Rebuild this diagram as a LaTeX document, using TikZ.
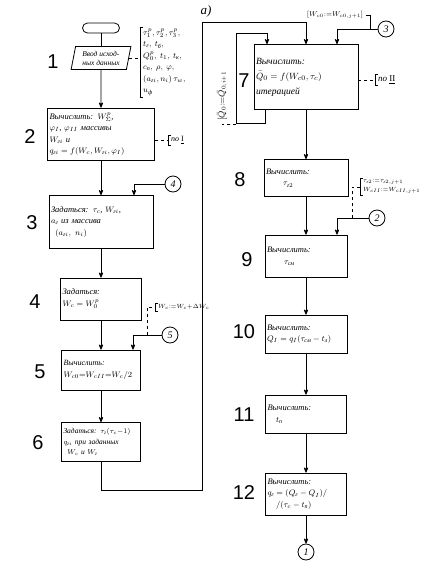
\documentclass[tikz,border=0pt]{standalone}
\usepackage{amsmath}
\usepackage{fontspec}
\setmainfont{Liberation Serif}
\setsansfont{Liberation Sans}
\usetikzlibrary{arrows}
\usetikzlibrary{shapes.geometric}
\newcommand{\ru}[1]{\text{#1}}
\newcommand{\skobka}[1]{\draw[thin] ([xshift=3pt]#1.north west) -- (#1.north west) -- (#1.south west) -- ([xshift=3pt]#1.south west);}

\begin{document}
\begin{tikzpicture}[x=1pt,y=-1pt,>=stealth',
  blok/.style={draw,rectangle,align=left,inner sep=2pt,font=\fontsize{8.5}{11.5}\selectfont\itshape},
  nomer/.style={inner sep=1pt,font=\fontsize{20}{20}\selectfont\sffamily},
  krug/.style={draw,circle,inner sep=0pt,minimum size=16pt,font=\fontsize{10}{10}\selectfont\itshape},
  zamech/.style={align=left,inner sep=1.5pt,inner xsep=3pt,font=\fontsize{8}{10}\selectfont\itshape}]
  \useasboundingbox (0,0) rectangle (429,568);
  \begin{scope}[thick]
    \node[font=\fontsize{13}{13}\selectfont\itshape] (metka) at (206,11) {а)};
    % left column
    \node[draw,rectangle,rounded corners=5pt,minimum width=37pt,minimum height=10pt,inner sep=0pt] (term) at (101,28) {};
    \node[draw,trapezium,trapezium left angle=78,trapezium right angle=102,trapezium stretches=true,
      minimum width=60pt,minimum height=23pt,inner sep=1pt,align=left,font=\fontsize{7.5}{9}\selectfont\itshape] (vvod) at (101,58) {Ввод исход-\\ных данных};
    \node[blok,text width=103pt,minimum height=52pt] (b2) at (101,134) {Вычислить: $W_\Sigma^p$,\\ $\varphi_I$, $\varphi_{II}$ массивы\\ $W_{\ru{г}i}$ и\\ $q_{\ru{г}i}=f(W_c,W_{\ru{г}i},\varphi_I)$};
    \node[blok,text width=100pt,minimum height=53pt] (b3) at (101,222) {Задаться: $\tau_c$, $W_{\ru{г}i}$,\\ $a_{\ru{г}}$ из массива\\ \enspace$(a_{\ru{г}i},\ n_i)$};
    \node[blok,text width=77pt,minimum height=42pt] (b4) at (101,299) {Задаться:\\ $W_c=W_0^p$};
    \node[blok,text width=75pt,minimum height=40pt,font=\fontsize{8}{11.5}\selectfont\itshape] (b5) at (101,370) {Вычислить:\\ ${W_{c0}{=}W_{cII}{=}W_c/2}$};
    \node[blok,text width=75pt,minimum height=39pt,font=\fontsize{7.5}{10.5}\selectfont\itshape] (b6) at (101,442) {Задаться: $\tau_{\ru{г}}(\tau_c{-}1)$\\ $q_{\ru{г}i}$ при заданных\\ \enspace$W_c$ и $W_{\ru{г}}$};
    % right column
    \node[blok,text width=100pt,minimum height=65pt,font=\fontsize{9.5}{15}\selectfont\itshape] (b7) at (306,77) {Вычислить:\\ $\bar Q_0=f(W_{c0},\tau_c)$\\ итерацией};
    \node[blok,text width=80pt,minimum height=37pt] (b8) at (306,178) {Вычислить:\\ \qquad$\tau_{\ru{г}2}$};
    \node[blok,text width=78pt,minimum height=42pt] (b9) at (306,256) {Вычислить:\\ \qquad$\tau_{\ru{см}}$};
    \node[blok,text width=78pt,minimum height=38pt] (b10) at (306,334) {Вычислить:\\ $Q_I=q_I(\tau_{\ru{см}}-t_{\ru{л}})$};
    \node[blok,text width=77pt,minimum height=38pt] (b11) at (306,414) {Вычислить:\\ \quad$t_{\ru{п}}$};
    \node[blok,text width=77pt,minimum height=42pt] (b12) at (306,494) {Вычислить:\\ $q_{\ru{г}}=(Q_{\ru{г}}-Q_I)/$\\ \quad$/(\tau_c-t_{\ru{п}})$};
    % numbers
    \node[nomer] (n1) at (53,62) {1};
    \node[nomer] (n2) at (30,137) {2};
    \node[nomer] (n3) at (32,223) {3};
    \node[nomer] (n4) at (35,302) {4};
    \node[nomer] (n5) at (40,372) {5};
    \node[nomer] (n6) at (38,443) {6};
    \node[nomer] (n7) at (244,81) {7};
    \node[nomer] (n8) at (240,180) {8};
    \node[nomer] (n9) at (247,260) {9};
    \node[nomer] (n10) at (244,332) {10};
    \node[nomer] (n11) at (244,415) {11};
    \node[nomer] (n12) at (244,493) {12};
    % connectors
    \node[krug] (k4) at (173,184) {4};
    \node[krug] (k5) at (170,335) {5};
    \node[krug] (k3) at (386,29) {3};
    \node[krug] (k2) at (377,218) {2};
    \node[krug] (k1) at (306,552) {1};
    \coordinate (povorot) at (202,22);
    \coordinate (vnutr) at (236,33);
    \draw (term) -- (vvod);
    \draw[->] (vvod) -- (b2);
    \draw[->] (b2) -- (b3);
    \draw[->] (b3) -- (b4);
    \draw[->] (b4) -- (b5);
    \draw[->] (b5) -- (b6);
    \draw[->] (b6.south) -- ++(0,28) -| (povorot) -| (b7.north);
    \draw[->] ([xshift=-41pt]b7.south) -- ++(0,13) -| (vnutr) -| ([xshift=-39pt]b7.north);
    \draw[->] (b7) -- (b8);
    \draw[->] (b8) -- (b9);
    \draw[->] (b9) -- (b10);
    \draw[->] (b10) -- (b11);
    \draw[->] (b11) -- (b12);
    \draw[->] (b12) -- (k1);
    \draw[->] (k4.west) -| ([xshift=33pt]b3.north);
    \draw[->] (k5.west) -| ([xshift=32pt]b5.north);
    \draw[->] (k3.west) -| ([xshift=31pt]b7.north);
    \draw[->] (k2.west) -| ([xshift=31pt]b9.north);
  \end{scope}
  % remarks
  \node[zamech,font=\fontsize{8}{11.5}\selectfont\itshape,anchor=west] (z1) at (140,62) {$\tau_1^p,\tau_2^p,\tau_3^p,$\\ $t_{\ru{г}},\ t_{\ru{б}},$\\ $Q_0^p,\ t_1,\ t_{\ru{к}},$\\ $c_{\ru{п}},\ \rho,\ \varphi,$\\ $(a_{\ru{г}i},n_i)\,\tau_w,$\\ $u_{\ru{ф}}$};
  \skobka{z1}
  \draw[thin,dashed] (vvod.east) -- (vvod.east -| z1.west);
  \node[zamech,anchor=west] (z2) at (168,140) {по $\underline{\mathrm{I}}$};
  \skobka{z2}
  \draw[thin,dashed] (b2.east |- z2.west) -- (z2.west);
  \node[zamech,font=\fontsize{6}{7}\selectfont\itshape,anchor=west] (z3) at (155,307) {$W_c{:=}W_c{+}\Delta W_c$};
  \skobka{z3}
  \coordinate (t5) at (147,335);
  \draw[thin,dashed] (t5) |- (z3.west);
  \node[zamech,font=\fontsize{9}{9}\selectfont\itshape,rotate=90,anchor=west] (z4) at (222,124) {$[\bar Q_0{:=}\bar Q_{0,i+1}$};
  \coordinate (t7) at (236,124);
  \draw[thin,dashed] (t7) -- (z4.west);
  \node[zamech,font=\fontsize{7}{8}\selectfont\itshape] (z5) at (335,15) {$[W_{c0}{:=}W_{c0,j+1}]$};
  \coordinate (t3) at (370,29);
  \draw[thin] (z5.east) -| (t3);
  \node[zamech,font=\fontsize{9}{9}\selectfont\itshape,anchor=west] (z6) at (375,80) {по $\underline{\mathrm{II}}$};
  \skobka{z6}
  \draw[thin,dashed] (b7.east |- z6.west) -- (z6.west);
  \node[zamech,font=\fontsize{6.5}{9}\selectfont\itshape,anchor=west] (z7) at (360,187) {$\tau_{\ru{г}2}{:=}\tau_{\ru{г}2,j+1}$\\ $W_{cII}{:=}W_{cII,j+1}$};
  \skobka{z7}
  \coordinate (t2) at (352,218);
  \draw[thin,dashed] (t2) |- (z7.west);
\end{tikzpicture}
\end{document}
